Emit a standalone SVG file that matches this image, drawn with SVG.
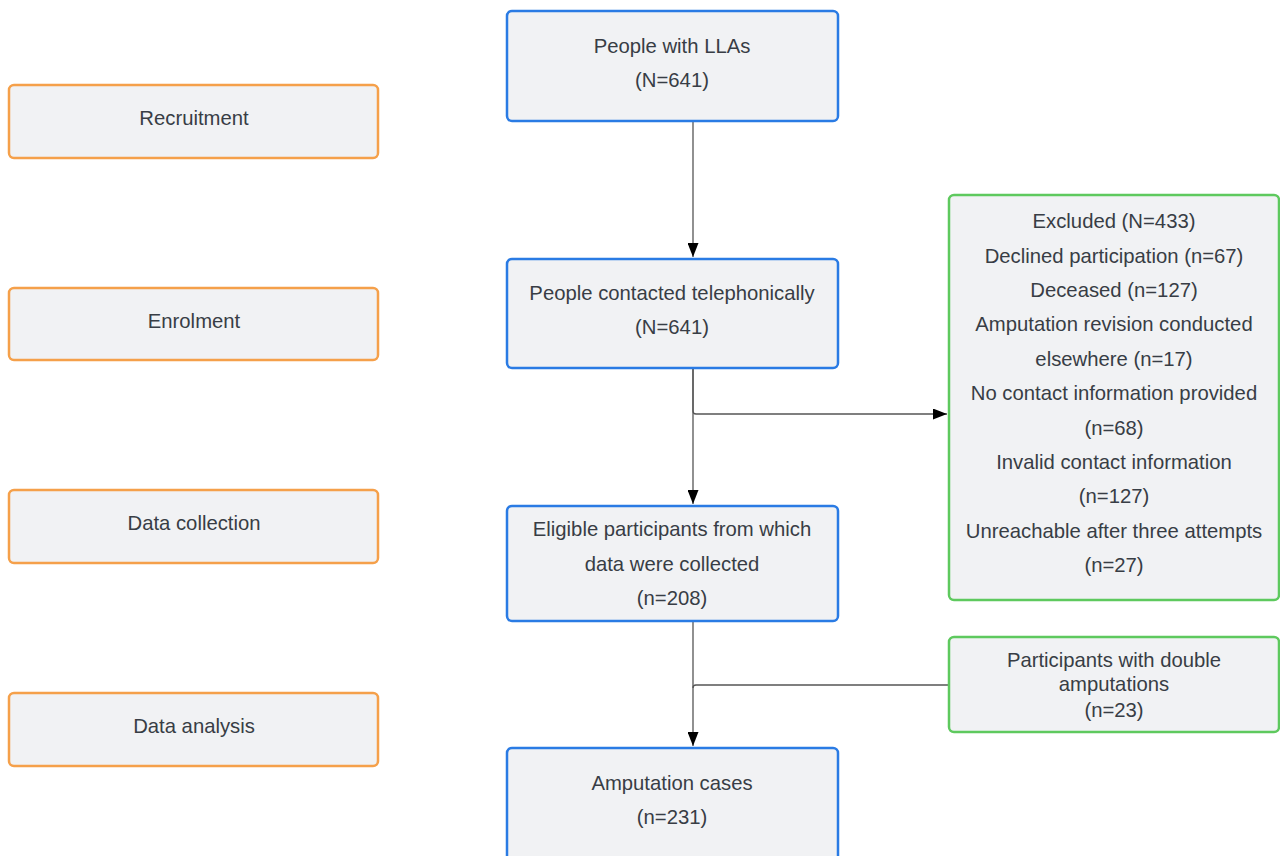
<svg xmlns="http://www.w3.org/2000/svg" width="1280" height="856" viewBox="0 0 1280 856">
<style>
.bl{fill:#f1f2f4;stroke:#2a7be4;stroke-width:2.5}
.or{fill:#f1f2f4;stroke:#f5a04a;stroke-width:2.5}
.gr{fill:#f1f2f4;stroke:#5ec95e;stroke-width:2.5}
text{font-family:"Liberation Sans",Arial,sans-serif;font-size:20.3px;fill:#383d45;text-anchor:middle}
.c{fill:none;stroke:#555;stroke-width:1.3}
</style>
<defs>
<marker id="ar" viewBox="0 0 14 11" refX="14" refY="5.5" markerWidth="14" markerHeight="11" markerUnits="userSpaceOnUse" orient="auto"><path d="M0,0 L14,5.5 L0,11 z" fill="#000"/></marker>
</defs>
<rect width="1280" height="856" fill="#fff"/>
<g id="connectors">
<path class="c" d="M693,121 V257" marker-end="url(#ar)"/>
<path class="c" d="M693,368 V504" marker-end="url(#ar)"/>
<path class="c" d="M693,368 V411 Q693,414 696,414 H947" marker-end="url(#ar)"/>
<path class="c" d="M693,621 V746" marker-end="url(#ar)"/>
<path class="c" d="M949,685 H696 Q693,685 693,688"/>
</g>
<g id="recruitment"><rect class="or" x="9" y="85" width="369" height="73" rx="5"/><text x="194" y="125">Recruitment</text></g>
<g id="enrolment"><rect class="or" x="9" y="288" width="369" height="72" rx="5"/><text x="194" y="328">Enrolment</text></g>
<g id="datacollection"><rect class="or" x="9" y="490" width="369" height="73" rx="5"/><text x="194" y="530">Data collection</text></g>
<g id="dataanalysis"><rect class="or" x="9" y="693" width="369" height="73" rx="5"/><text x="194" y="733">Data analysis</text></g>
<g id="people"><rect class="bl" x="507" y="11" width="331" height="110" rx="5"/><text x="672" y="53">People with LLAs</text><text x="672" y="87">(N=641)</text></g>
<g id="contacted"><rect class="bl" x="507" y="259" width="331" height="109" rx="5"/><text x="672" y="300">People contacted telephonically</text><text x="672" y="334">(N=641)</text></g>
<g id="eligible"><rect class="bl" x="507" y="506" width="331" height="115" rx="5"/><text x="672" y="536">Eligible participants from which</text><text x="672" y="571">data were collected</text><text x="672" y="605">(n=208)</text></g>
<g id="cases"><rect class="bl" x="507" y="748" width="331" height="115" rx="5"/><text x="672" y="790">Amputation cases</text><text x="672" y="824">(n=231)</text></g>
<g id="excluded"><rect class="gr" x="949" y="195" width="330" height="405" rx="5"/>
<text x="1114" y="228">Excluded (N=433)</text>
<text x="1114" y="263">Declined participation (n=67)</text>
<text x="1114" y="297">Deceased (n=127)</text>
<text x="1114" y="331">Amputation revision conducted</text>
<text x="1114" y="366">elsewhere (n=17)</text>
<text x="1114" y="400">No contact information provided</text>
<text x="1114" y="435">(n=68)</text>
<text x="1114" y="469">Invalid contact information</text>
<text x="1114" y="503">(n=127)</text>
<text x="1114" y="538">Unreachable after three attempts</text>
<text x="1114" y="572">(n=27)</text>
</g>
<g id="double"><rect class="gr" x="949" y="637" width="330" height="95" rx="5"/>
<text x="1114" y="667">Participants with double</text>
<text x="1114" y="691">amputations</text>
<text x="1114" y="717">(n=23)</text>
</g>
</svg>
